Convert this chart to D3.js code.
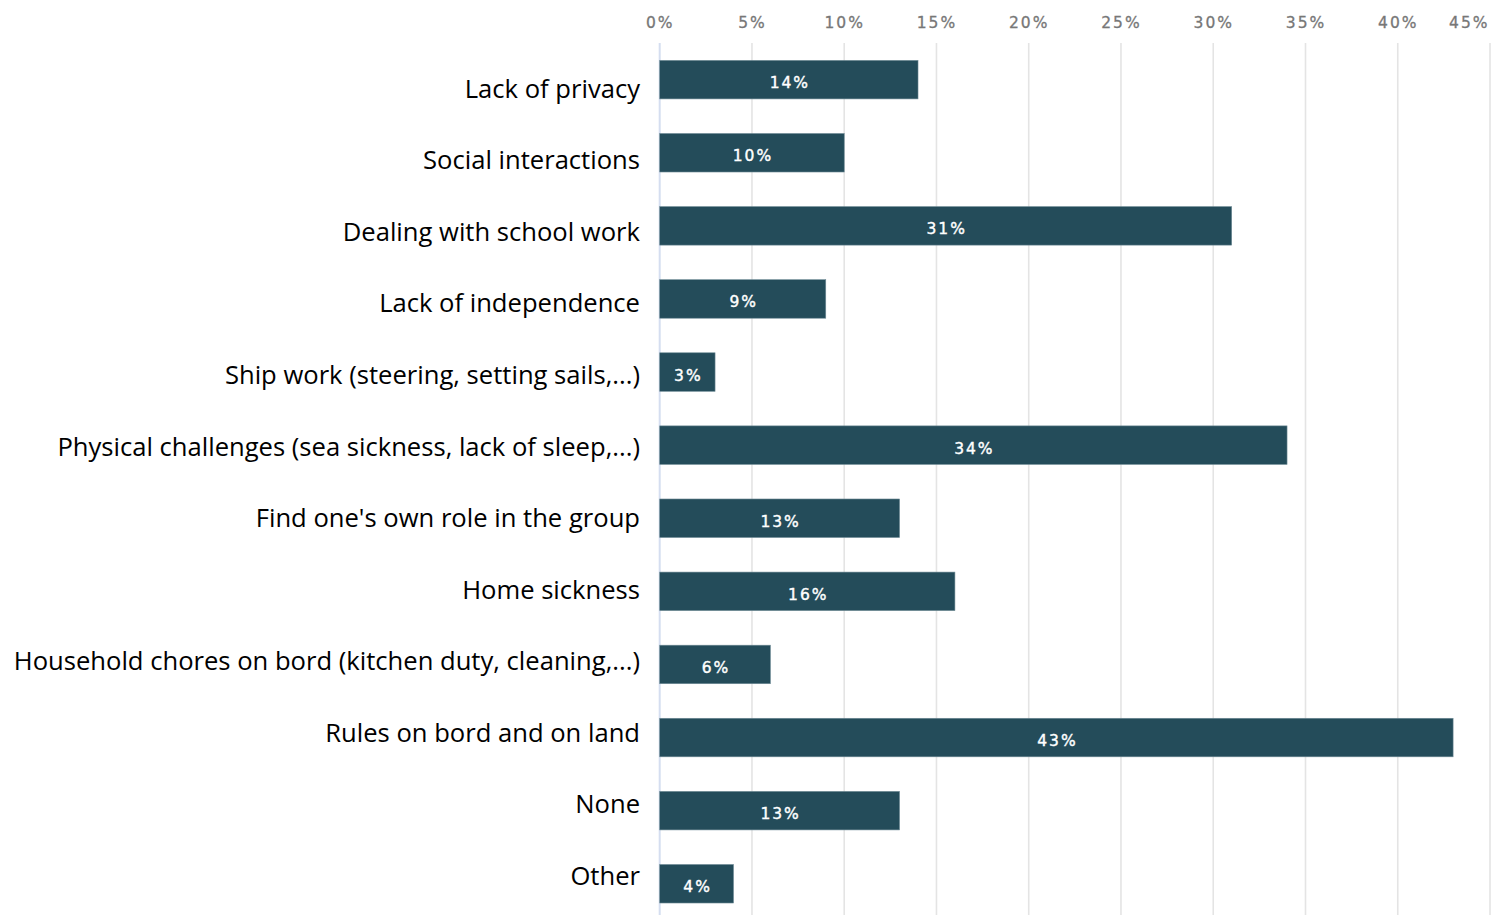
<!DOCTYPE html>
<html>
<head>
<meta charset="utf-8">
<script src="https://cdn.jsdelivr.net/npm/d3@7"></script>
<style>
  html, body { margin: 0; padding: 0; background: #ffffff; }
  svg { display: block; }
</style>
</head>
<body>
<svg id="chart" width="1506" height="915"></svg>
<script>
// Challenges reported during the voyage (share of respondents, %)
const categories = [
  "Lack of privacy",
  "Social interactions",
  "Dealing with school work",
  "Lack of independence",
  "Ship work (steering, setting sails,...)",
  "Physical challenges (sea sickness, lack of sleep,...)",
  "Find one's own role in the group",
  "Home sickness",
  "Household chores on bord (kitchen duty, cleaning,...)",
  "Rules on bord and on land",
  "None",
  "Other"
];
const values = [14, 10, 31, 9, 3, 34, 13, 16, 6, 43, 13, 4];
const tickValues = [0, 5, 10, 15, 20, 25, 30, 35, 40, 45];

const svg = d3.select("#chart");

const x = d3.scaleLinear().domain([0, 45]).range([659.7, 1490]);

// bar rows
const y = d3.scaleBand()
  .domain(categories)
  .range([43.1, 43.1 + 12 * 73.1])
  .paddingInner(0.473)
  .paddingOuter(0.2365);

// category label baselines
const yLabel = d3.scalePoint()
  .domain(categories)
  .range([97.7, 885]);

// vertical gridlines
svg.append("g")
  .selectAll("line")
  .data(tickValues)
  .join("line")
  .attr("x1", d => x(d))
  .attr("x2", d => x(d))
  .attr("y1", 43)
  .attr("y2", 915)
  .attr("stroke", d => d === 0 ? "#d5def0" : "#e4e4e4")
  .attr("stroke-width", d => d === 0 ? 2 : 1.6);

// top axis labels
const axis = d3.axisTop(x)
  .tickValues(tickValues)
  .tickFormat(d => d + "%")
  .tickSize(0)
  .tickPadding(0);

const axisG = svg.append("g")
  .attr("transform", "translate(0,28)")
  .call(axis);
axisG.select(".domain").remove();
axisG.selectAll("text")
  .attr("dy", 0)
  .attr("font-family", "'DejaVu Sans', Verdana, sans-serif")
  .attr("font-size", 15.5)
  .attr("letter-spacing", 2)
  .attr("fill", "#777777")
  .attr("stroke", "#777777")
  .attr("stroke-width", 0.3);
axisG.selectAll(".tick")
  .filter(d => d === 45)
  .select("text")
  .attr("text-anchor", "end")
  .attr("x", -1);

// bars
svg.append("g")
  .selectAll("rect")
  .data(values)
  .join("rect")
  .attr("x", x(0))
  .attr("y", (d, i) => y(categories[i]))
  .attr("width", d => x(d) - x(0))
  .attr("height", y.bandwidth())
  .attr("fill", "#244c5a")
  .attr("stroke", "#6f8b96")
  .attr("stroke-width", 0.6);

// value labels inside bars
svg.append("g")
  .selectAll("text")
  .data(values)
  .join("text")
  .attr("x", d => (x(0) + x(d)) / 2 + 1)
  .attr("y", (d, i) => y(categories[i]) + y.bandwidth() / 2 + 8.5)
  .attr("text-anchor", "middle")
  .attr("font-family", "'DejaVu Sans', Verdana, sans-serif")
  .attr("font-size", 15.5)
  .attr("letter-spacing", 2)
  .attr("fill", "#ffffff")
  .attr("stroke", "#ffffff")
  .attr("stroke-width", 0.4)
  .text(d => d + "%");

// category labels
svg.append("g")
  .selectAll("text")
  .data(categories)
  .join("text")
  .attr("x", 640)
  .attr("y", d => yLabel(d))
  .attr("text-anchor", "end")
  .attr("font-family", "'Open Sans', 'Noto Sans', sans-serif")
  .attr("font-size", 25.6)
  .attr("fill", "#000000")
  .text(d => d);
</script>
</body>
</html>
